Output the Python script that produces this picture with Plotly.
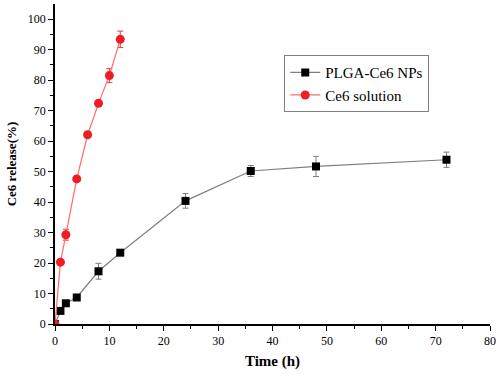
import plotly.graph_objects as go

# PLGA-Ce6 NPs
t_np = [0, 1, 2, 4, 8, 12, 24, 36, 48, 72]
rel_np = [0, 4.3, 6.8, 8.7, 17.3, 23.4, 40.4, 50.2, 51.7, 53.9]
err_np = [0, 0.6, 0.6, 0.6, 2.6, 0.6, 2.4, 1.8, 3.3, 2.5]

# Ce6 solution
t_sol = [0, 1, 2, 4, 6, 8, 10, 12]
rel_sol = [0, 20.3, 29.3, 47.6, 62.1, 72.4, 81.5, 93.4]
err_sol = [0, 0.6, 1.8, 0.6, 0.6, 0.8, 2.3, 2.7]

FONT = "Liberation Serif"

fig = go.Figure()
fig.add_trace(go.Scatter(
    x=t_np, y=rel_np, name="PLGA-Ce6 NPs", mode="lines+markers",
    line=dict(color="#7f7f7f", width=1.2),
    marker=dict(symbol="square", size=8, color="black"),
    error_y=dict(type="data", array=err_np, color="#7f7f7f", thickness=1, width=3),
))
fig.add_trace(go.Scatter(
    x=t_sol, y=rel_sol, name="Ce6 solution", mode="lines+markers",
    line=dict(color="#ff6b6b", width=1.2),
    marker=dict(symbol="circle", size=9, color="#ee1c25"),
    error_y=dict(type="data", array=err_sol, color="#e04040", thickness=1, width=3),
))

fig.update_layout(
    width=500, height=374,
    margin=dict(l=55, r=10, t=4, b=50),
    paper_bgcolor="white", plot_bgcolor="white",
    font=dict(family=FONT, size=12, color="black"),
    showlegend=True,
    legend=dict(
        x=0.527, y=0.84, xanchor="left", yanchor="top",
        bordercolor="#808080", borderwidth=1, bgcolor="white",
        font=dict(family=FONT, size=15, color="black"),
        tracegroupgap=0, itemwidth=30,
    ),
    xaxis=dict(
        range=[0, 80], tickmode="linear", tick0=0, dtick=10,
        showline=True, linecolor="black", linewidth=1.5,
        ticks="outside", ticklen=5, tickwidth=1.2, tickcolor="black",
        minor=dict(ticks="outside", ticklen=3, dtick=5, tickcolor="black", tickwidth=1),
        showgrid=False, zeroline=False,
        title=dict(text="<b>Time (h)</b>", font=dict(family=FONT, size=15), standoff=8),
        tickfont=dict(family=FONT, size=12),
    ),
    yaxis=dict(
        range=[0, 105], tickmode="array", tickvals=list(range(0, 101, 10)),
        showline=True, linecolor="black", linewidth=1.5,
        ticks="outside", ticklen=5, tickwidth=1.2, tickcolor="black",
        minor=dict(ticks="outside", ticklen=3, tickvals=list(range(5, 101, 10)), tickcolor="black", tickwidth=1),
        showgrid=False, zeroline=False,
        title=dict(text="<b>Ce6 release(%)</b>", font=dict(family=FONT, size=13), standoff=8),
        tickfont=dict(family=FONT, size=12),
    ),
)

fig.write_html("out.html", config={"displayModeBar": False},
               post_script="document.body.style.margin='0';")
